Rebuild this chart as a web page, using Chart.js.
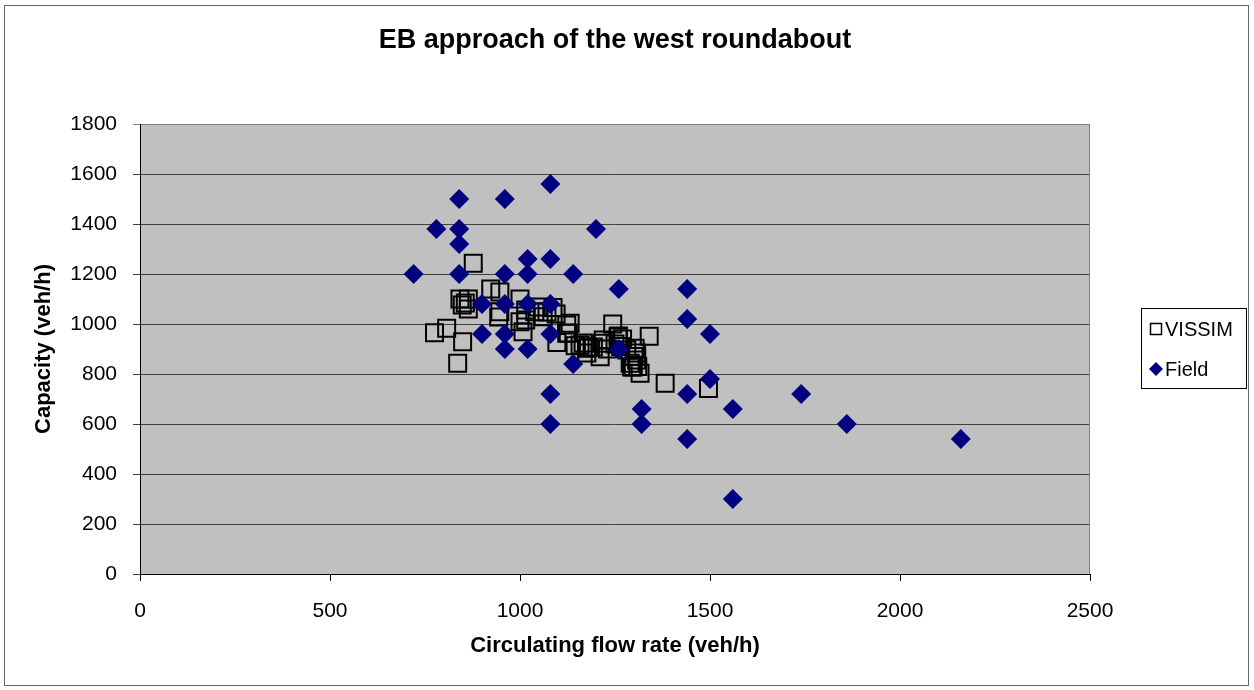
<!DOCTYPE html>
<html>
<head>
<meta charset="utf-8">
<script src="https://cdn.jsdelivr.net/npm/chart.js@4.4.1/dist/chart.umd.min.js"></script>
<style>
  html, body { margin: 0; padding: 0; background: #fff; }
  #c { display: block; }
</style>
</head>
<body>
<canvas id="c" width="1254" height="690"></canvas>
<script>
const chartTitle = 'EB approach of the west roundabout';
const xTitle = 'Circulating flow rate (veh/h)';
const yTitle = 'Capacity (veh/h)';
const seriesNames = ['VISSIM', 'Field'];

const xTicks = [0, 500, 1000, 1500, 2000, 2500];
const yTicks = [0, 200, 400, 600, 800, 1000, 1200, 1400, 1600, 1800];

const vissimX = [877, 775, 807, 849, 836, 842, 864, 848, 864, 856, 923, 947, 944, 947, 1000, 1000, 1008, 1015, 1015, 1039, 1048, 1061, 1071, 1087, 1095, 1123, 1127, 1132, 1097, 1123, 1145, 1158, 1166, 1176, 1175, 1180, 1193, 1211, 1215, 1219, 1244, 1258, 1259, 1270, 1281, 1303, 1307, 1307, 1290, 1294, 1298, 1316, 1300, 1340, 1382, 1496, 1230, 1250, 1265, 1310];
const vissimY = [1243, 965, 983, 929, 843, 1100, 1100, 1076, 1060, 1084, 1140, 1128, 1028, 1049, 1100, 1009, 969, 1056, 1016, 1049, 1068, 1029, 1048, 1066, 1040, 996, 964, 1003, 926, 963, 913, 916, 924, 884, 903, 907, 908, 869, 923, 936, 1000, 948, 952, 940, 896, 903, 884, 856, 843, 828, 828, 803, 870, 951, 763, 742, 900, 920, 910, 830];

const fieldX = [720, 780, 840, 840, 840, 840, 960, 1080, 1200, 1020, 1080, 960, 1020, 1140, 1260, 1440, 1440, 1500, 900, 960, 1020, 1080, 900, 960, 1080, 960, 1020, 1140, 1260, 1500, 1080, 1080, 1320, 1320, 1440, 1440, 1560, 1560, 1740, 1860, 2160];
const fieldY = [1200, 1380, 1500, 1380, 1320, 1200, 1500, 1560, 1380, 1260, 1260, 1200, 1200, 1200, 1140, 1140, 1020, 960, 1080, 1080, 1080, 1080, 960, 960, 960, 900, 900, 840, 900, 780, 720, 600, 660, 600, 720, 540, 660, 300, 720, 600, 540];

const toPoints = (xs, ys) => xs.map((x, i) => ({ x: x, y: ys[i] }));

const FONT = "'Liberation Sans', Arial, sans-serif";
Chart.defaults.font.family = FONT;
Chart.defaults.color = '#000';

const frame = {
  id: 'frame',
  beforeDraw(chart) {
    const { ctx, chartArea: a } = chart;
    ctx.save();
    ctx.fillStyle = '#fff';
    ctx.fillRect(0, 0, chart.width, chart.height);
    ctx.strokeStyle = '#666';
    ctx.lineWidth = 1;
    ctx.strokeRect(4.5, 5.5, 1244, 680);
    ctx.fillStyle = '#c0c0c0';
    ctx.fillRect(a.left, a.top, a.right - a.left, a.bottom - a.top);
    ctx.restore();
  },
  beforeDatasetsDraw(chart) {
    const { ctx, chartArea: a } = chart;
    ctx.save();
    ctx.strokeStyle = '#808080';
    ctx.lineWidth = 1;
    ctx.beginPath();
    ctx.moveTo(Math.round(a.right) - 0.5, a.top);
    ctx.lineTo(Math.round(a.right) - 0.5, a.bottom);
    ctx.stroke();
    ctx.restore();
  },
  afterDraw(chart) {
    const ctx = chart.ctx;
    const ds = chart.data.datasets;
    ctx.save();
    ctx.strokeStyle = '#000';
    ctx.lineWidth = 1;
    ctx.strokeRect(1141.5, 308.5, 105, 80);
    ctx.font = '20px ' + FONT;
    ctx.textBaseline = 'middle';
    ctx.textAlign = 'left';
    ctx.fillStyle = '#000';
    ctx.lineWidth = 1.5;
    ctx.strokeStyle = '#000';
    ctx.strokeRect(1150.5, 323.5, 11, 11);
    ctx.fillText(ds[0].label, 1165, 330);
    ctx.fillStyle = '#000080';
    ctx.beginPath();
    ctx.moveTo(1156, 362);
    ctx.lineTo(1163, 369);
    ctx.lineTo(1156, 376);
    ctx.lineTo(1149, 369);
    ctx.closePath();
    ctx.fill();
    ctx.fillStyle = '#000';
    ctx.fillText(ds[1].label, 1165, 370);
    ctx.restore();
  }
};

new Chart(document.getElementById('c'), {
  type: 'scatter',
  data: {
    datasets: [
      {
        label: seriesNames[0],
        data: toPoints(vissimX, vissimY),
        pointStyle: 'rect',
        pointRadius: 12,
        backgroundColor: 'rgba(0,0,0,0)',
        borderColor: '#000',
        borderWidth: 2,
        order: 2
      },
      {
        label: seriesNames[1],
        data: toPoints(fieldX, fieldY),
        pointStyle: 'rectRot',
        pointRadius: 10,
        backgroundColor: '#000080',
        borderColor: '#000080',
        borderWidth: 0,
        order: 1
      }
    ]
  },
  options: {
    responsive: false,
    animation: false,
    events: [],
    layout: { padding: { left: 0, right: 164, top: 0, bottom: 0 } },
    plugins: {
      legend: { display: false },
      tooltip: { enabled: false },
      title: {
        display: true,
        text: chartTitle,
        fullSize: false,
        color: '#000',
        font: { size: 27, weight: 'bold', family: FONT, lineHeight: 1.2 },
        padding: { top: 24, bottom: 67.6 }
      }
    },
    scales: {
      x: {
        type: 'linear',
        min: xTicks[0],
        max: xTicks[xTicks.length - 1],
        afterFit(scale) { scale.height = 116; },
        afterBuildTicks(scale) { scale.ticks = xTicks.map(v => ({ value: v })); },
        ticks: { padding: 17.4, font: { size: 21 }, color: '#000', maxRotation: 0, callback: (v) => String(v) },
        grid: { drawOnChartArea: false, drawTicks: true, tickLength: 7, color: '#000', lineWidth: 1 },
        border: { display: true, color: '#000', width: 1 },
        title: {
          display: true,
          text: xTitle,
          color: '#000',
          font: { size: 22, weight: 'bold', lineHeight: 1.2 },
          padding: { top: 0, bottom: 30.8 }
        }
      },
      y: {
        type: 'linear',
        min: yTicks[0],
        max: yTicks[yTicks.length - 1],
        afterFit(scale) { scale.width = 140; },
        afterBuildTicks(scale) { scale.ticks = yTicks.map(v => ({ value: v })); },
        ticks: { padding: 16, font: { size: 21 }, color: '#000', callback: (v) => String(v) },
        grid: {
          drawTicks: true,
          tickLength: 7,
          lineWidth: 1,
          color: (c) => (c.tick && c.tick.value === 1800 ? '#808080' : '#404040')
        },
        border: { display: true, color: '#000', width: 1 },
        title: {
          display: true,
          text: yTitle,
          color: '#000',
          font: { size: 22, weight: 'bold', lineHeight: 1.2 },
          padding: { top: 30.8, bottom: 0 }
        }
      }
    }
  },
  plugins: [frame]
});
</script>
</body>
</html>
